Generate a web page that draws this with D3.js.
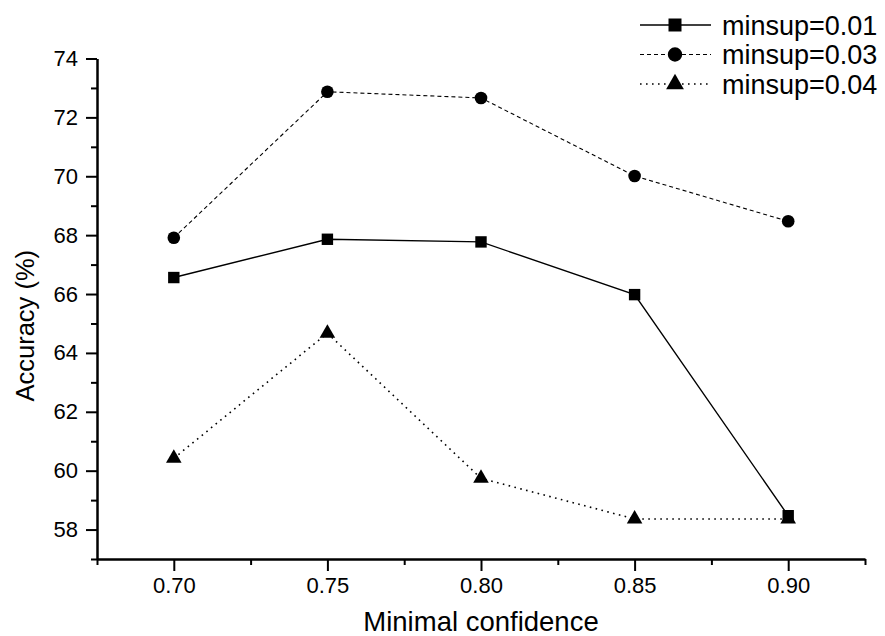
<!DOCTYPE html>
<html>
<head>
<meta charset="utf-8">
<script src="https://cdn.jsdelivr.net/npm/d3@7"></script>
<style>
  body { margin: 0; background: #fff; }
  text { font-family: "Liberation Sans", Arial, sans-serif; fill: #000; }
</style>
</head>
<body>
<script>
// data
const confidence = [0.70, 0.75, 0.80, 0.85, 0.90];
const minsup001 = [66.56, 67.86, 67.77, 65.98, 58.47];
const minsup003 = [67.91, 72.87, 72.66, 70.01, 68.47];
const minsup004 = [60.42, 64.67, 59.74, 58.36, 58.36];
const seriesNames = ["minsup=0.01", "minsup=0.03", "minsup=0.04"];
const xTickValues = [0.70, 0.75, 0.80, 0.85, 0.90];
const yTickValues = [58, 60, 62, 64, 66, 68, 70, 72, 74];

const width = 885, height = 636;
const plotLeft = 97, plotRight = 865, plotTop = 58.5, plotBottom = 559;

const x = d3.scaleLinear().domain([0.675, 0.925]).range([plotLeft, plotRight]);
const y = d3.scaleLinear().domain([57, 74]).range([plotBottom, plotTop]);

const svg = d3.select("body").append("svg")
  .attr("width", width)
  .attr("height", height);

// minor ticks first, majors on top
const xMinor = d3.range(0, 6).map(i => 0.675 + i * 0.05);
const yMinor = d3.range(57, 74, 2);

svg.append("g")
  .attr("transform", `translate(0,${plotBottom})`)
  .call(d3.axisBottom(x).tickValues(xMinor).tickSize(6).tickSizeOuter(0).tickFormat(""))
  .call(g => g.select(".domain").remove())
  .selectAll("line").attr("stroke-width", 2);

svg.append("g")
  .attr("transform", `translate(${plotLeft},0)`)
  .call(d3.axisLeft(y).tickValues(yMinor).tickSize(6).tickSizeOuter(0).tickFormat(""))
  .call(g => g.select(".domain").remove())
  .selectAll("line").attr("stroke-width", 2);

const xAxis = svg.append("g")
  .attr("transform", `translate(0,${plotBottom})`)
  .call(d3.axisBottom(x).tickValues(xTickValues).tickSize(12).tickSizeOuter(0)
    .tickPadding(6).tickFormat(d3.format(".2f")));
xAxis.select(".domain").attr("stroke-width", 2.5);
xAxis.selectAll("line").attr("stroke-width", 2);
xAxis.selectAll("text").style("font-size", "22px");

const yAxis = svg.append("g")
  .attr("transform", `translate(${plotLeft},0)`)
  .call(d3.axisLeft(y).tickValues(yTickValues).tickSize(11).tickSizeOuter(0)
    .tickPadding(8).tickFormat(d3.format("d")));
yAxis.select(".domain").attr("stroke-width", 2.5);
yAxis.selectAll("line").attr("stroke-width", 2);
yAxis.selectAll("text").style("font-size", "22px");

// axis titles
svg.append("text")
  .attr("x", (plotLeft + plotRight) / 2)
  .attr("y", 631)
  .attr("text-anchor", "middle")
  .style("font-size", "27.5px")
  .text("Minimal confidence");

svg.append("text")
  .attr("transform", `translate(34,${(plotTop + plotBottom) / 2 + 17}) rotate(-90)`)
  .attr("text-anchor", "middle")
  .style("font-size", "25.5px")
  .text("Accuracy (%)");

// series
const series = [
  { name: seriesNames[0], values: minsup001, dash: null, width: 1.4, symbol: d3.symbolSquare, size: 130 },
  { name: seriesNames[1], values: minsup003, dash: "4,3", width: 1.1, symbol: d3.symbolCircle, size: 125 },
  { name: seriesNames[2], values: minsup004, dash: "1.6,4.4", width: 1.6, symbol: d3.symbolTriangle, size: 105 }
];

const line = d3.line()
  .x((d, i) => x(confidence[i]))
  .y(d => y(d));

const plots = svg.append("g")
  .selectAll("g")
  .data(series)
  .join("g");

plots.append("path")
  .attr("d", d => line(d.values))
  .attr("fill", "none")
  .attr("stroke", "#000")
  .attr("stroke-width", d => d.width)
  .attr("stroke-dasharray", d => d.dash);

plots.each(function(s) {
  d3.select(this).selectAll("path.pt")
    .data(s.values)
    .join("path")
    .attr("class", "pt")
    .attr("transform", (d, i) => `translate(${x(confidence[i])},${y(d)})`)
    .attr("d", d3.symbol().type(s.symbol).size(s.size))
    .attr("fill", "#000");
});

// legend
const legend = svg.append("g")
  .selectAll("g")
  .data(series)
  .join("g")
  .attr("transform", (d, i) => `translate(640,${25 + i * 29.5})`);

legend.append("line")
  .attr("x1", 0).attr("x2", 71)
  .attr("stroke", "#000")
  .attr("stroke-width", d => d.width)
  .attr("stroke-dasharray", d => d.dash);

legend.append("path")
  .attr("transform", "translate(35,0)")
  .attr("d", d => d3.symbol().type(d.symbol).size(d.size * 1.3)())
  .attr("fill", "#000");

legend.append("text")
  .attr("x", 82)
  .attr("dy", "0.36em")
  .style("font-size", "27px")
  .text(d => d.name);
</script>
</body>
</html>
